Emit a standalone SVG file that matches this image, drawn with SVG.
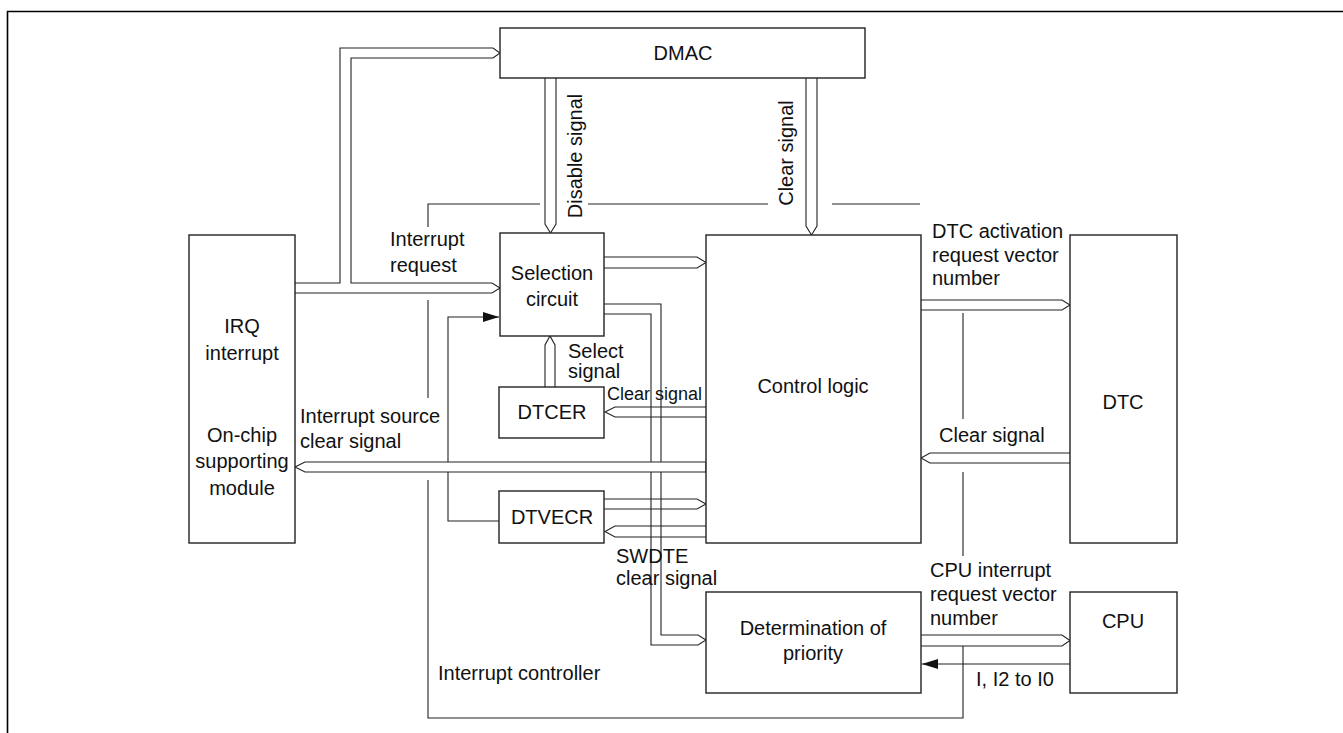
<svg xmlns="http://www.w3.org/2000/svg" width="1343" height="733" viewBox="0 0 1343 733">
<style>
text{font-family:"Liberation Sans",Arial,sans-serif;font-size:20px;fill:#111}
.c{text-anchor:middle}
.box{fill:#fff;stroke:#222;stroke-width:1.4}
.bus{fill:none;stroke:#222;stroke-width:1.1}
.busw{fill:#fff;stroke:#222;stroke-width:1.1}
.ln{fill:none;stroke:#222;stroke-width:1.1}
.frame{fill:none;stroke:#000;stroke-width:1.6}
.small{font-size:18px}
</style>
<defs>
<marker id="ah" viewBox="0 0 16 10" refX="16" refY="5" markerWidth="16" markerHeight="10" markerUnits="userSpaceOnUse" orient="auto">
<path d="M0,0 L16,5 L0,10 Z" fill="#111"/>
</marker>
</defs>
<rect width="1343" height="733" fill="#fff"/>
<path class="frame" d="M7.5,733 V11.5 H1343"/>

<g id="boundary">
<path class="ln" d="M428,227 V204 H540 M588,204 H768 M832,204 H920"/>
<path class="ln" d="M428,300 V398 M428,480 V718 H963 V646 M963,556 V472 M963,419 V313"/>
<text x="438" y="680">Interrupt controller</text>
</g>

<g id="connectors">
<!-- IRQ to DMAC and Selection -->
<path class="bus" d="M295,283 H340 V48 H493 L500,53 L493,58 H351 V283 H492 L500,288 L492,293 H295"/>
<!-- Disable signal -->
<path class="bus" d="M545,78 V224 L550.5,233 L556,224 V78"/>
<!-- DMAC clear signal -->
<path class="bus" d="M806,78 V226 L811.5,235 L817,226 V78"/>
<!-- Select signal -->
<path class="bus" d="M545,387 V345 L550,336 L555,345 V387"/>
<!-- Selection to Control -->
<path class="bus" d="M604,257 H697 L706,262.5 L697,268 H604"/>
<!-- Selection to Determination -->
<path class="bus" d="M604,304 H661 V635 H698 L706,640 L698,645 H651 V314 H604"/>
<!-- Clear to DTCER -->
<path class="bus" d="M706,407 H615 L605,412 L615,417 H706"/>
<!-- DTVECR to Control -->
<path class="bus" d="M604,499 H697 L706,504 L697,509 H604"/>
<!-- Control to DTVECR -->
<path class="bus" d="M706,526 H615 L605,531.5 L615,537 H706"/>
<!-- feedback DTVECR to Selection -->
<path class="ln" d="M499,521 H448 V317 H499" marker-end="url(#ah)"/>
<!-- Interrupt source clear -->
<path class="busw" d="M706,462 H305 L295,467 L305,472 H706 Z"/>
<!-- DTC activation -->
<path class="bus" d="M921,300 H1062 L1070,305 L1062,310 H921"/>
<!-- DTC clear -->
<path class="bus" d="M1070,453 H930 L921,458 L930,463 H1070"/>
<!-- CPU interrupt -->
<path class="bus" d="M921,635 H1062 L1070,640.5 L1062,646 H921"/>
<!-- I, I2 to I0 -->
<path class="ln" d="M1070,664 H922" marker-end="url(#ah)"/>

<text transform="translate(582,156) rotate(-90)" class="c">Disable signal</text>
<text transform="translate(793,153) rotate(-90)" class="c">Clear signal</text>
<text x="390" y="246">Interrupt</text>
<text x="390" y="272">request</text>
<text x="568" y="358">Select</text>
<text x="568" y="378">signal</text>
<text x="607" y="400" class="small">Clear signal</text>
<text x="300" y="423">Interrupt source</text>
<text x="300" y="448">clear signal</text>
<text x="616" y="563">SWDTE</text>
<text x="616" y="585">clear signal</text>
<text x="932" y="238">DTC activation</text>
<text x="932" y="262">request vector</text>
<text x="932" y="285">number</text>
<text x="939" y="442">Clear signal</text>
<text x="930" y="577">CPU interrupt</text>
<text x="930" y="601">request vector</text>
<text x="930" y="625">number</text>
<text x="976" y="686">I, I2 to I0</text>
</g>

<g id="dmac">
<rect class="box" x="500" y="28" width="365" height="50"/>
<text x="683" y="60" class="c">DMAC</text>
</g>
<g id="irq">
<rect class="box" x="189" y="235" width="106" height="308"/>
<text x="242" y="333" class="c">IRQ</text>
<text x="242" y="360" class="c">interrupt</text>
<text x="242" y="442" class="c">On-chip</text>
<text x="242" y="468" class="c">supporting</text>
<text x="242" y="495" class="c">module</text>
</g>
<g id="selection">
<rect class="box" x="500" y="233" width="104" height="103"/>
<text x="552" y="280" class="c">Selection</text>
<text x="552" y="306" class="c">circuit</text>
</g>
<g id="dtcer">
<rect class="box" x="499" y="387" width="105" height="51"/>
<text x="552" y="419" class="c">DTCER</text>
</g>
<g id="dtvecr">
<rect class="box" x="499" y="491" width="105" height="52"/>
<text x="552" y="524" class="c">DTVECR</text>
</g>
<g id="control">
<rect class="box" x="706" y="235" width="215" height="308"/>
<text x="813" y="393" class="c">Control logic</text>
</g>
<g id="dtc">
<rect class="box" x="1070" y="235" width="107" height="308"/>
<text x="1123" y="409" class="c">DTC</text>
</g>
<g id="priority">
<rect class="box" x="706" y="592" width="215" height="101"/>
<text x="813" y="635" class="c">Determination of</text>
<text x="813" y="660" class="c">priority</text>
</g>
<g id="cpu">
<rect class="box" x="1070" y="592" width="107" height="101"/>
<text x="1123" y="628" class="c">CPU</text>
</g>
</svg>
